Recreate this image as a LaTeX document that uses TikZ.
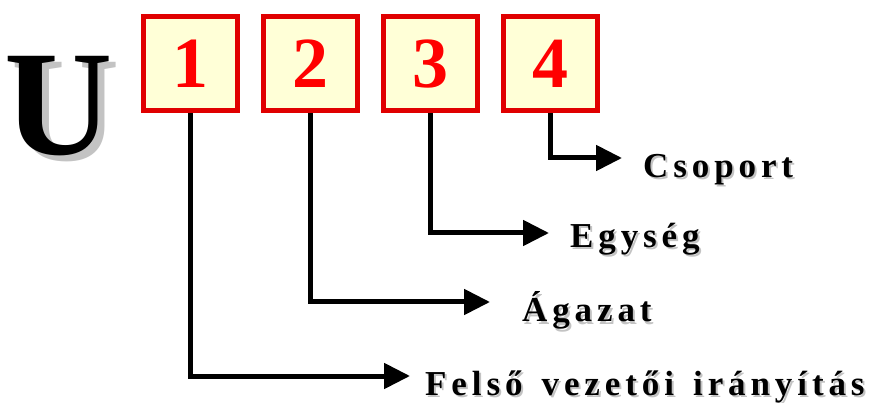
\documentclass[tikz,border=0pt]{standalone}
\usepackage{fontspec}
\setmainfont{Liberation Serif}
\newfontfamily\lblfont[LetterSpace=14,WordSpace=1.4]{Liberation Serif}
\usetikzlibrary{arrows.meta,positioning}
\definecolor{boxfill}{RGB}{255,255,215}
\definecolor{shade}{RGB}{195,195,195}
\begin{document}
\begin{tikzpicture}[x=1pt,y=-1pt,
  digitbox/.style = {draw=red!88!black, line width=5pt, fill=boxfill, minimum size=94pt, inner sep=0pt, text=red, font=\fontsize{72}{72}\selectfont\bfseries},
  conn/.style = {line width=5pt, -{Triangle[length=26pt,width=25pt]}},
  lbl/.style = {anchor=base west, inner sep=0pt, font=\fontsize{35}{35}\lblfont\bfseries},
  lblshade/.style = {lbl, text=shade}]
\useasboundingbox (0,0) rectangle (870,403);
% the big letter
\node[anchor=base west, inner sep=0pt, text=shade, font=\fontsize{150}{150}\selectfont\bfseries] at (11,161) {U};
\node[anchor=base west, inner sep=0pt, font=\fontsize{150}{150}\selectfont\bfseries] (U) at (4,155) {U};
% code digits
\node[digitbox] (b1) at (190,64) {1};
\node[digitbox] (b2) at (310,64) {2};
\node[digitbox] (b3) at (430,64) {3};
\node[digitbox] (b4) at (550,64) {4};
% labels
\node[lblshade] at (645,180) {Csoport};
\node[lbl] (l4) at (643,178) {Csoport};
\node[lblshade] at (572,250) {Egység};
\node[lbl] (l3) at (570,248) {Egység};
\node[lblshade] at (524,324) {Ágazat};
\node[lbl] (l2) at (522,322) {Ágazat};
\node[lblshade] at (427,397) {Felső vezetői irányítás};
\node[lbl] (l1) at (425,395) {Felső vezetői irányítás};
% arrow ends
\coordinate (t4) at (622,158);
\coordinate (t3) at (549,233);
\coordinate (t2) at (490,302);
\coordinate (t1) at (410,376);
\draw[conn] (b4.south) |- (t4);
\draw[conn] (b3.south) |- (t3);
\draw[conn] (b2.south) |- (t2);
\draw[conn] (b1.south) |- (t1);
\end{tikzpicture}
\end{document}
